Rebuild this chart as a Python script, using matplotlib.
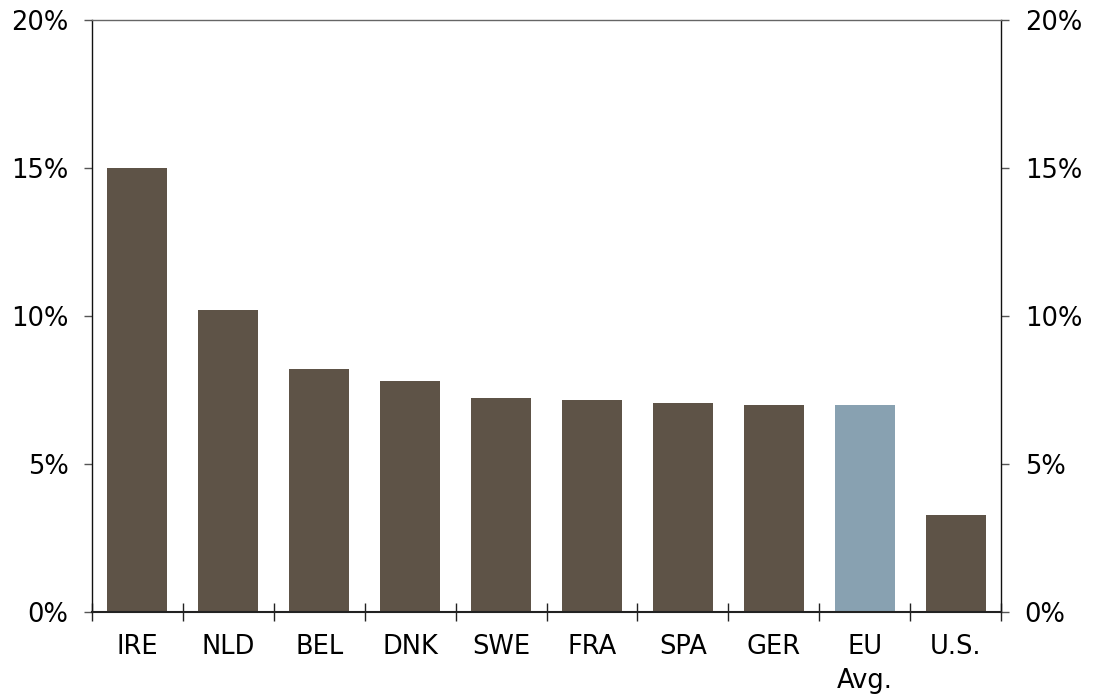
import numpy as np
import matplotlib.pyplot as plt
from matplotlib.ticker import FuncFormatter, MultipleLocator

# data
countries = ['IRE', 'NLD', 'BEL', 'DNK', 'SWE', 'FRA', 'SPA', 'GER', 'EU\nAvg.', 'U.S.']
values = [15.0, 10.2, 8.2, 7.8, 7.23, 7.16, 7.06, 7.0, 6.98, 3.28]
highlight = 'EU\nAvg.'

brown = '#5e5347'
bluegray = '#88a1b1'

plt.rcParams['font.family'] = ['DejaVu Sans']

fig = plt.figure(figsize=(10.95, 6.99), dpi=100)
ax = fig.add_axes([0.084, 0.1245, 0.8302, 0.8469])

x = np.arange(len(countries))
colors = [bluegray if c == highlight else brown for c in countries]
ax.bar(x, values, width=0.66, color=colors, zorder=2)

ax.set_xlim(-0.5, len(countries) - 0.5)
ax.set_ylim(0, 20)

# x labels at centers, ticks at category boundaries
ax.set_xticks(x)
ax.set_xticklabels(countries, fontsize=18.5, linespacing=1.4, va='top')
ax.set_xticks(np.arange(-0.5, len(countries), 1.0), minor=True)
ax.tick_params(axis='x', which='major', length=0, pad=16)
ax.tick_params(axis='x', which='minor', direction='inout', length=13.5, width=1, color='#222222')

ax.yaxis.set_major_locator(MultipleLocator(5))
ax.yaxis.set_major_formatter(FuncFormatter(lambda v, p: f'{v:.0f}%'))
ax.tick_params(axis='y', which='major', direction='out', length=6, width=1, color='#555555',
               labelsize=18.5, pad=11, left=True, right=True, labelleft=True, labelright=True)

for side in ['left', 'right']:
    ax.spines[side].set_color('#111111')
    ax.spines[side].set_linewidth(1)
ax.spines['top'].set_color('#666666')
ax.spines['top'].set_linewidth(1)
ax.spines['bottom'].set_color('#222222')
ax.spines['bottom'].set_linewidth(1.5)

fig.savefig('out.png', dpi=100)
